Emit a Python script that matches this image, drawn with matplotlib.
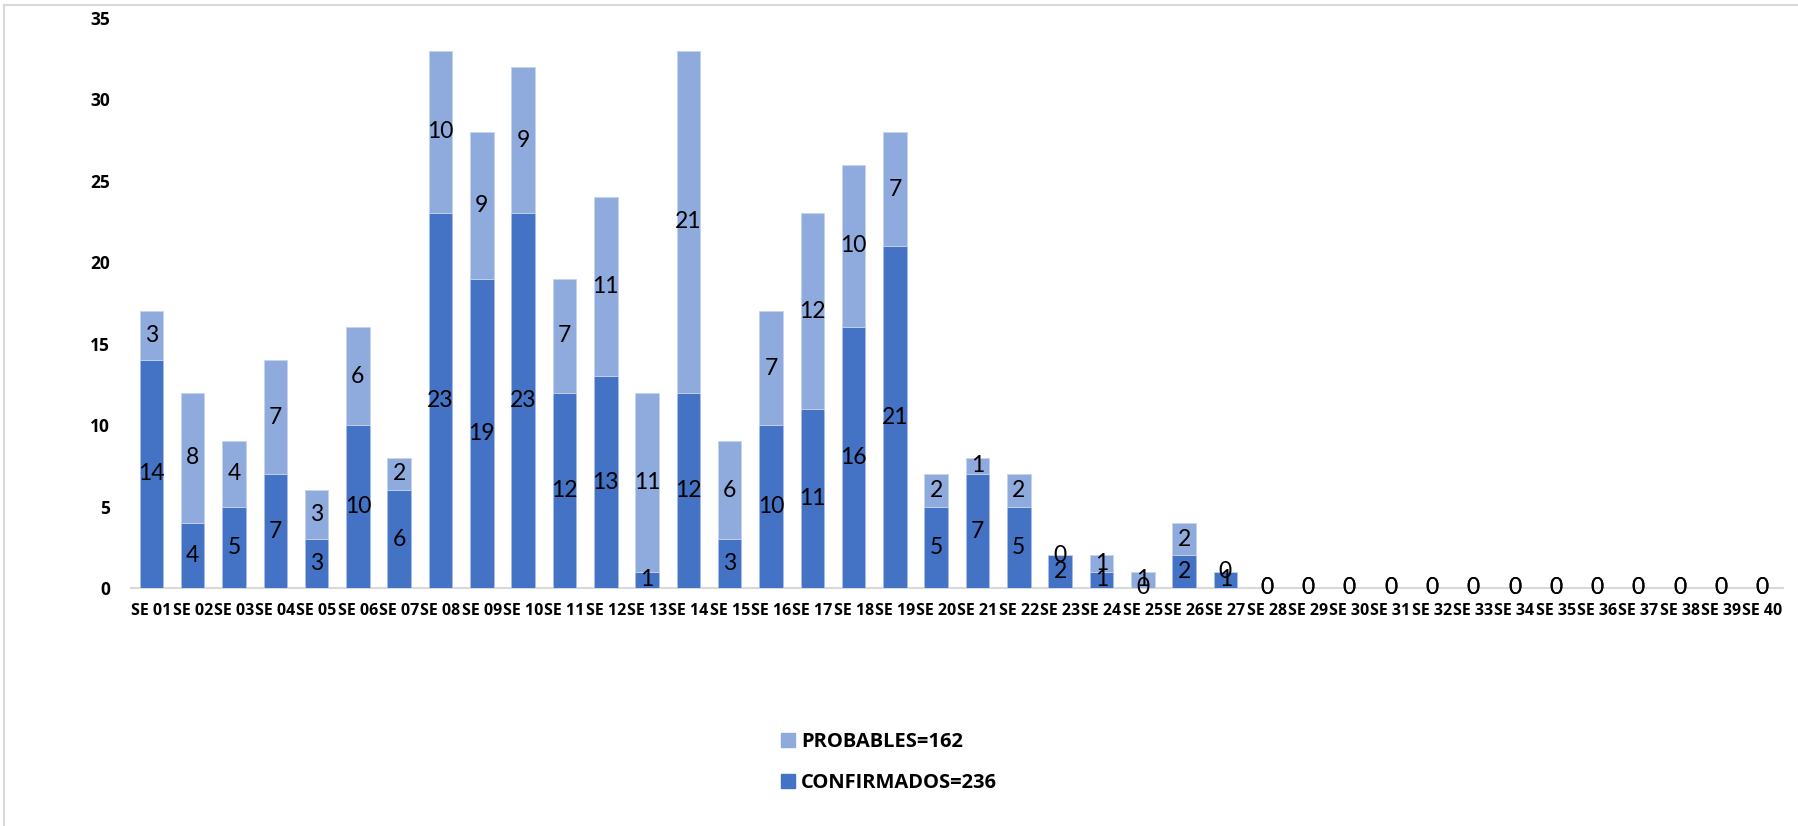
import matplotlib
matplotlib.use("Agg")
import matplotlib.pyplot as plt
from matplotlib.lines import Line2D

weeks = [f"SE {i:02d}" for i in range(1, 41)]
confirmados = [14, 4, 5, 7, 3, 10, 6, 23, 19, 23, 12, 13, 1, 12, 3, 10, 11, 16, 21, 5,
               7, 5, 2, 1, 0, 2, 1, 0, 0, 0, 0, 0, 0, 0, 0, 0, 0, 0, 0, 0]
probables = [3, 8, 4, 7, 3, 6, 2, 10, 9, 9, 7, 11, 11, 21, 6, 7, 12, 10, 7, 2,
             1, 2, 0, 1, 1, 2, 0, 0, 0, 0, 0, 0, 0, 0, 0, 0, 0, 0, 0, 0]
label_conf = "CONFIRMADOS=236"
label_prob = "PROBABLES=162"

dark = "#4472C4"
light = "#8FAADC"
font = ["Lato", "DejaVu Sans"]
bold_font = ["Open Sans", "DejaVu Sans"]
plt.rcParams["font.family"] = font

W, H = 1799, 826
fig = plt.figure(figsize=(W / 100, H / 100), dpi=100)
ax = fig.add_axes([130.7 / W, (H - 588) / H, (1783 - 130.7) / W, 570 / H])

x = list(range(len(weeks)))
b1 = ax.bar(x, confirmados, width=0.57, color=dark, edgecolor="#A9BEE6", linewidth=0.6,
            label=label_conf, zorder=2)
b2 = ax.bar(x, probables, width=0.57, bottom=confirmados, color=light, edgecolor="#C5D3EE",
            linewidth=0.6, label=label_prob, zorder=2)
ax.bar_label(b1, label_type="center", fontsize=16.5, color="black", zorder=3)
ax.bar_label(b2, label_type="center", fontsize=16.5, color="black", zorder=3)

ax.set_xlim(-0.5, len(weeks) - 0.5)
ax.set_ylim(0, 35)
ax.set_yticks(range(0, 36, 5))
ax.set_xticks(x)
ax.set_xticklabels(weeks)
for lab in ax.get_xticklabels() + ax.get_yticklabels():
    lab.set_fontweight("bold")
    lab.set_fontsize(11.5)
    lab.set_family(bold_font)
for lab in ax.get_yticklabels():
    lab.set_fontsize(12.5)
ax.tick_params(axis="both", length=0)
ax.tick_params(axis="y", pad=15)
ax.tick_params(axis="x", pad=11)
for s in ["top", "right", "left"]:
    ax.spines[s].set_visible(False)
ax.spines["bottom"].set_color("#D9D9D9")
ax.spines["bottom"].set_linewidth(1.5)
ax.spines["bottom"].set_zorder(1)

handles = [plt.Rectangle((0, 0), 1, 1, color=light), plt.Rectangle((0, 0), 1, 1, color=dark)]
leg = fig.legend(handles, [label_prob, label_conf], loc="upper left",
                 bbox_to_anchor=(781 / W, (H - 732) / H), frameon=False,
                 borderpad=0, borderaxespad=0, handlelength=0.7, handleheight=0.7,
                 handletextpad=0.3, labelspacing=1.05,
                 prop={"family": bold_font, "weight": "bold", "size": 14.5})

# outer chart border (top and left visible)
fig.add_artist(Line2D([4 / W, 4 / W], [0, (H - 5) / H], color="#D9D9D9", lw=1.5,
                      transform=fig.transFigure))
fig.add_artist(Line2D([4 / W, 1], [(H - 5) / H, (H - 5) / H], color="#D9D9D9", lw=1.5,
                      transform=fig.transFigure))

fig.savefig("out.png", dpi=100)
